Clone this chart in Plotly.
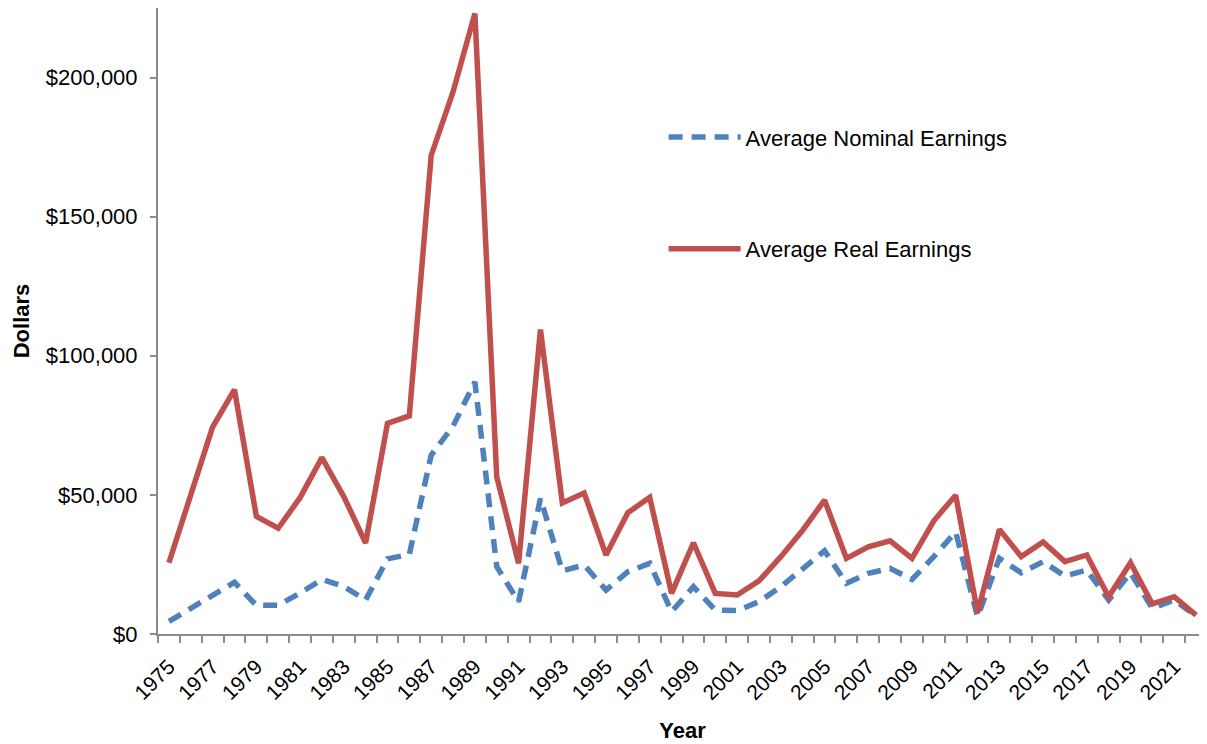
import plotly.graph_objects as go

years = list(range(1975, 2023))
nominal = [4.5, 9.2, 14.4, 18.6, 10.3, 10.3, 14.7, 19.6, 17.1, 12.2,
           27.0, 28.6, 64.3, 74.7, 90.6, 24.2, 11.6, 48.7, 22.7, 24.8,
           15.8, 22.4, 25.4, 8.0, 17.0, 8.6, 8.4, 11.6, 17.0, 23.6,
           29.9, 18.2, 21.8, 23.6, 19.6, 27.8, 36.7, 6.2, 27.2, 22.0,
           26.0, 20.8, 23.0, 12.2, 22.0, 9.2, 12.2, 6.5]
real = [25.6, 50.0, 74.4, 87.8, 42.3, 38.0, 49.0, 63.4, 49.4, 32.7,
        75.7, 78.4, 172.0, 194.8, 223.0, 56.5, 25.4, 109.4, 47.1, 50.7,
        28.4, 43.6, 49.1, 14.6, 32.8, 14.6, 14.0, 19.1, 27.8, 37.3,
        48.1, 27.2, 31.3, 33.5, 27.2, 40.7, 49.9, 7.7, 37.6, 27.8,
        33.1, 26.0, 28.4, 13.4, 25.6, 10.8, 13.4, 6.8]
nominal = [v * 1000 for v in nominal]
real = [v * 1000 for v in real]
tick_years = list(range(1975, 2022, 2))
y_ticks = [0, 50000, 100000, 150000, 200000]
y_labels = ["$0", "$50,000", "$100,000", "$150,000", "$200,000"]

FONT = "Liberation Sans, Arial, sans-serif"
AX = "#8c8c8c"

fig = go.Figure()
fig.add_trace(go.Scatter(x=years, y=nominal, mode="lines", name="Average Nominal Earnings",
                         legendgroup="a",
                         line=dict(color="#4F81BD", width=5.5, dash="14px,9px")))
fig.add_trace(go.Scatter(x=years, y=real, mode="lines", name="Average Real Earnings",
                         legendgroup="b",
                         line=dict(color="#C0504D", width=5.5)))

fig.update_layout(
    width=1207, height=744,
    margin=dict(l=150, r=8, t=0, b=118, autoexpand=False),
    plot_bgcolor="white", paper_bgcolor="white",
    font=dict(family=FONT, size=22, color="black"),
    showlegend=True,
    legend=dict(x=0.482, y=0.827, xanchor="left", yanchor="top",
                font=dict(size=22), tracegroupgap=80, itemwidth=72,
                bgcolor="rgba(0,0,0,0)"),
    xaxis=dict(range=[1974.5, 2022.5], tickmode="array", tickvals=tick_years,
               ticktext=[str(y) for y in tick_years], tickangle=-45,
               ticks="", showgrid=False, zeroline=False, automargin=False,
               showline=True, linecolor=AX, linewidth=2,
               tickfont=dict(size=21), ticklabelstandoff=10,
               minor=dict(tickmode="array", tickvals=[y - 0.5 for y in years] + [2022.5],
                          ticks="outside", ticklen=7, tickcolor=AX, tickwidth=2, showgrid=False),
               title=dict(text="<b>Year</b>", font=dict(size=22), standoff=20)),
    yaxis=dict(range=[0, 225000], tickmode="array", tickvals=y_ticks, ticktext=y_labels,
               ticks="outside", ticklen=6, tickcolor=AX, tickwidth=2,
               showgrid=False, zeroline=False, automargin=False,
               showline=True, linecolor=AX, linewidth=2,
               tickfont=dict(size=22), ticklabelstandoff=8,
               title=dict(text="<b>Dollars</b>", font=dict(size=22), standoff=10)),
)

fig.write_html("out.html")
